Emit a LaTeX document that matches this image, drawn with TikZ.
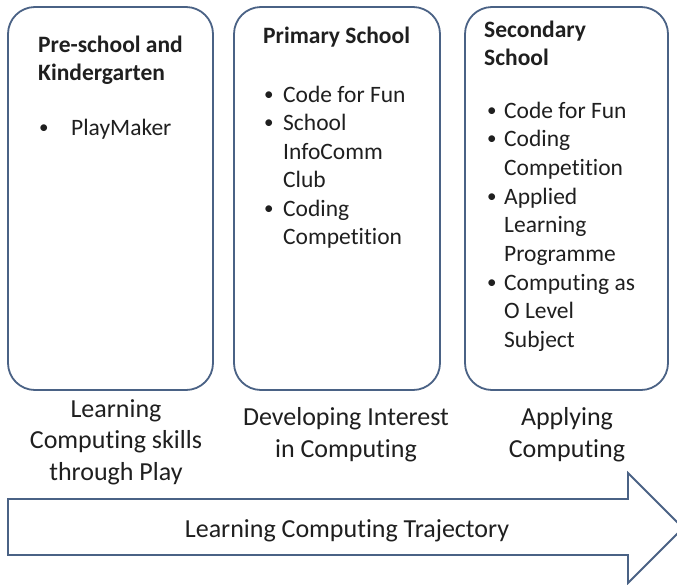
\documentclass[tikz,border=0pt]{standalone}
\usepackage{fontspec}
\setmainfont{Carlito}[Ligatures=NoCommon]
\definecolor{edgeblue}{HTML}{4A6285}
\definecolor{inkgrey}{HTML}{1F1F1F}
\tikzset{
  stagebox/.style={draw=edgeblue, line width=1.8pt, rounded corners=27pt},
  head/.style={anchor=base west, inner sep=0pt, text=inkgrey, font=\fontsize{23.5}{28}\selectfont\bfseries},
  item/.style={anchor=base west, inner sep=0pt, text=inkgrey, font=\fontsize{23.5}{28}\selectfont},
  dot/.style={anchor=base west, inner sep=0pt, text=inkgrey, font=\fontsize{19}{28}\selectfont},
  caption/.style={anchor=base, inner sep=0pt, text=inkgrey, font=\fontsize{26}{31}\selectfont}
}
\begin{document}
\begin{tikzpicture}[x=1pt,y=-1pt]
\useasboundingbox (0,0) rectangle (677,584);
\fill[white] (0,0) rectangle (677,584);

% the three stages
\path[stagebox] (8,7) rectangle (213,390);
\path[stagebox] (234,7) rectangle (440,390);
\path[stagebox] (465,7) rectangle (668,390);

% trajectory arrow
\path[draw=edgeblue,line width=1.8pt,line join=miter]
  (8,499) -- (628,499) -- (628,473) -- (683,528) -- (628,583) -- (628,555) -- (8,555) -- cycle;

% pre-school
\node[head] (ph1) at (38,52) {Pre-school and};
\node[head] (ph2) at (38,80) {Kindergarten};
\node[dot] (pb1) at (39,133) {\textbullet};
\node[item] (pi1) at (71,135) {PlayMaker};

% primary
\node[head] (mh1) at (263,43) {Primary School};
\node[dot] (mb1) at (264,100) {\textbullet};
\node[item] (mi1) at (283,102) {Code for Fun};
\node[dot] (mb2) at (264,128.5) {\textbullet};
\node[item] (mi2) at (283,130.5) {School};
\node[item] (mi3) at (283,159) {InfoComm};
\node[item] (mi4) at (283,187.5) {Club};
\node[dot] (mb3) at (264,214) {\textbullet};
\node[item] (mi5) at (283,216) {Coding};
\node[item] (mi6) at (283,244.5) {Competition};

% secondary
\node[head] (sh1) at (484,37) {Secondary};
\node[head] (sh2) at (484,65) {School};
\node[dot] (sb1) at (487,116) {\textbullet};
\node[item] (si1) at (504,118) {Code for Fun};
\node[dot] (sb2) at (487,144.7) {\textbullet};
\node[item] (si2) at (504,146.7) {Coding};
\node[item] (si3) at (504,175.4) {Competition};
\node[dot] (sb3) at (487,202.1) {\textbullet};
\node[item] (si4) at (504,204.1) {Applied};
\node[item] (si5) at (504,232.8) {Learning};
\node[item] (si6) at (504,261.5) {Programme};
\node[dot] (sb4) at (487,288.2) {\textbullet};
\node[item] (si7) at (504,290.2) {Computing as};
\node[item] (si8) at (504,318.9) {O Level};
\node[item] (si9) at (504,347.6) {Subject};

% captions
\node[caption] (pc1) at (116,417) {Learning};
\node[caption] (pc2) at (116,448) {Computing skills};
\node[caption] (pc3) at (116,480) {through Play};
\node[caption] (mc1) at (346,425) {Developing Interest};
\node[caption] (mc2) at (346,457) {in Computing};
\node[caption] (sc1) at (567,425) {Applying};
\node[caption] (sc2) at (567,457) {Computing};
\node[caption] (tc) at (347,537) {Learning Computing Trajectory};
\end{tikzpicture}
\end{document}
